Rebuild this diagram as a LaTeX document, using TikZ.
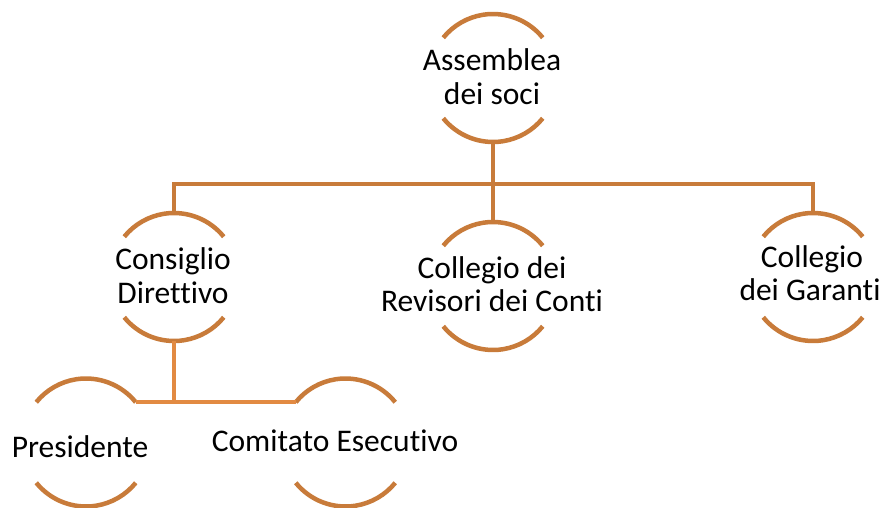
\documentclass[tikz,border=0pt]{standalone}
\usepackage{fontspec}
\setmainfont{Carlito}[Ligatures={NoCommon,NoContextual}]
\definecolor{arcc}{RGB}{200,123,58}
\definecolor{lowc}{RGB}{226,138,66}
\begin{document}
\begin{tikzpicture}[x=1pt,y=-1pt,
  ring/.style={circle,minimum size=128pt,inner sep=0pt,outer sep=0pt},
  arcline/.style={draw=arcc,line width=4.5pt},
  conn/.style={draw=arcc,line width=4.5pt},
  connlow/.style={draw=lowc,line width=4.5pt},
  lbl/.style={anchor=base,inner sep=0pt,font=\fontsize{31.5}{33.5}\selectfont}]
\useasboundingbox[fill=white] (0,0) rectangle (886,508);
% rings
\node[ring] (cA) at (493,78) {};
\node[ring] (cC) at (174,277) {};
\node[ring] (cR) at (493,286) {};
\node[ring] (cG) at (813,277) {};
\node[ring] (cP) at (86,442.5) {};
\node[ring] (cE) at (345.5,442.5) {};
\foreach \n in {cA,cC,cR,cG,cP,cE}{
  \draw[arcline] (\n.39) arc[start angle=39,end angle=141,radius=64pt];
  \draw[arcline] (\n.219) arc[start angle=219,end angle=321,radius=64pt];
}
% connectors
\coordinate (bus) at (493,184);
\coordinate (low) at (174,401);
\draw[conn] (cA.south) -- (cR.north);
\draw[conn] (cC.north) -- (cC.north |- bus) -- (cG.north |- bus) -- (cG.north);
\draw[connlow] (cC.south) -- (low);
\draw[connlow] (cP.39) -- (cE.141);
% labels
\node[lbl] (tA1) at (492,71) {Assemblea};
\node[lbl] (tA2) at (492,105) {dei soci};
\node[lbl] (tC1) at (173,269) {Consiglio};
\node[lbl] (tC2) at (173,303) {Direttivo};
\node[lbl] (tR1) at (492,278) {Collegio dei};
\node[lbl] (tR2) at (492,311.5) {Revisori dei Conti};
\node[lbl] (tG1) at (812,267) {Collegio};
\node[lbl] (tG2) at (810,300) {dei Garanti};
\node[lbl] (tP) at (80,457) {Presidente};
\node[lbl] (tE) at (335,451) {Comitato Esecutivo};
\end{tikzpicture}
\end{document}
